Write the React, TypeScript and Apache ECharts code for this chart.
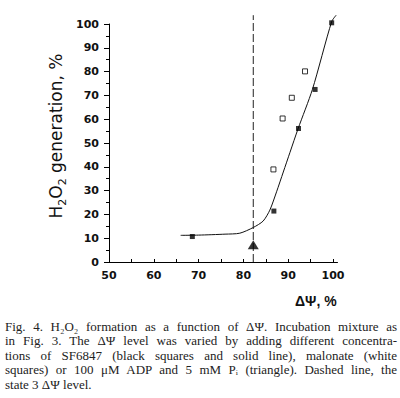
import React, { useEffect, useRef } from 'react';
import * as echarts from 'echarts';

// Fitted SF6847 curve
const curveX = [66, 70, 75.9, 79.2, 82.2, 84.4, 85.9, 87.4, 88.9, 90.4, 92.2, 95.4, 99.7, 100.7];
const curveY = [11.2, 11.3, 11.7, 12.1, 14.5, 17.2, 21.8, 29.5, 37.8, 46.1, 56, 72.5, 101, 103.7];
// Black squares (SF6847)
const blackX = [68.6, 86.8, 92.3, 96.0, 99.7];
const blackY = [10.7, 21.4, 56.1, 72.5, 100.5];
// White squares (malonate)
const whiteX = [86.7, 88.75, 90.8, 93.75];
const whiteY = [38.9, 60.3, 69.0, 80.1];
// Triangle (ADP + Pi)
const triangleX = [82.2];
const triangleY = [7.2];
// State 3 level (dashed line)
const state3X = [82.2, 82.2];
const state3Y = [0, 103.7];
// Axis ticks
const xTickValues = [50, 55, 60, 65, 70, 75, 80, 85, 90, 95, 100];
const xLabelValues = [50, 60, 70, 80, 90, 100];

const zip = (xs: number[], ys: number[]) => xs.map((x, i) => [x, ys[i]]);

export default function App() {
  const ref = useRef<HTMLDivElement>(null);
  useEffect(() => {
    if (!ref.current) return;
    const chart = echarts.init(ref.current, null, { renderer: 'svg' });
    const labelFont = {
      fontFamily: 'DejaVu Sans',
      fontWeight: 'bold' as const,
      fontSize: 11,
      color: '#111',
    };
    chart.setOption({
      animation: false,
      backgroundColor: '#fff',
      grid: { left: 109, right: 62.5, top: 24, bottom: 56 },
      xAxis: {
        type: 'value',
        min: 50,
        max: 101,
        axisLine: { show: true, onZero: false, lineStyle: { color: '#000', width: 1 } },
        axisTick: {
          show: true,
          inside: true,
          length: 3,
          customValues: xTickValues,
          lineStyle: { color: '#000' },
        },
        axisLabel: { ...labelFont, margin: 8, customValues: xLabelValues },
        splitLine: { show: false },
      },
      yAxis: {
        type: 'value',
        min: 0,
        max: 100,
        interval: 10,
        axisLine: { show: true, onZero: false, lineStyle: { color: '#000', width: 1 } },
        axisTick: { show: true, length: 5, lineStyle: { color: '#000' } },
        minorTick: { show: true, splitNumber: 2, length: 3, lineStyle: { color: '#000' } },
        axisLabel: { ...labelFont, margin: 10 },
        splitLine: { show: false },
      },
      series: [
        {
          type: 'line',
          data: zip(state3X, state3Y),
          showSymbol: false,
          symbol: 'none',
          clip: false,
          lineStyle: { color: '#222', width: 1, type: [8, 3] },
          z: 1,
        },
        {
          type: 'line',
          data: zip(curveX, curveY),
          showSymbol: false,
          symbol: 'none',
          smooth: 0.25,
          clip: false,
          lineStyle: { color: '#111', width: 1 },
          z: 2,
        },
        {
          type: 'scatter',
          data: zip(blackX, blackY),
          symbol: 'rect',
          symbolSize: 5,
          clip: false,
          itemStyle: { color: '#000' },
          z: 3,
        },
        {
          type: 'scatter',
          data: zip(whiteX, whiteY),
          symbol: 'rect',
          symbolSize: 5,
          clip: false,
          itemStyle: { color: '#fff', borderColor: '#000', borderWidth: 1 },
          z: 3,
        },
        {
          type: 'scatter',
          data: zip(triangleX, triangleY),
          symbol: 'triangle',
          symbolSize: [11, 9],
          clip: false,
          itemStyle: { color: '#000' },
          z: 3,
        },
      ],
      graphic: [
        {
          type: 'text',
          x: 62,
          y: 136,
          rotation: Math.PI / 2,
          style: {
            text: '{n|H}{sub|2}{n|O}{sub|2}{n| generation, %}',
            fontFamily: 'DejaVu Sans',
            fontSize: 17,
            fill: '#111',
            align: 'center',
            verticalAlign: 'middle',
            rich: {
              n: {
                fontFamily: 'DejaVu Sans',
                fontSize: 17,
                lineHeight: 17,
                verticalAlign: 'top',
                fill: '#111',
              },
              sub: {
                fontFamily: 'DejaVu Sans',
                fontSize: 11,
                lineHeight: 30,
                fill: '#111',
              },
            },
          },
        },
        {
          type: 'text',
          x: 295,
          y: 301,
          style: {
            text: 'ΔΨ, %',
            fontFamily: 'Liberation Sans',
            fontWeight: 'bold',
            fontSize: 14,
            fill: '#111',
            align: 'left',
            verticalAlign: 'middle',
          },
        },
      ],
    });
    return () => chart.dispose();
  }, []);

  const lineStyle: React.CSSProperties = {
    textAlign: 'justify',
    textAlignLast: 'justify',
    whiteSpace: 'nowrap',
    height: 14.4,
    lineHeight: '14.4px',
  };

  return (
    <div style={{ position: 'fixed', left: 0, top: 0, width: 400, height: 398, background: '#fff', overflow: 'hidden' }}>
      <div ref={ref} style={{ position: 'absolute', left: 0, top: 0, width: 400, height: 318 }} />
      <div
        style={{
          position: 'absolute',
          left: 5,
          top: 320,
          width: 392,
          fontFamily: '"Liberation Serif", "DejaVu Serif", serif',
          fontSize: 13,
          color: '#222',
        }}
      >
        <div style={lineStyle}>Fig. 4. H₂O₂ formation as a function of ΔΨ. Incubation mixture as</div>
        <div style={lineStyle}>in Fig. 3. The ΔΨ level was varied by adding different concentra-</div>
        <div style={lineStyle}>tions of SF6847 (black squares and solid line), malonate (white</div>
        <div style={lineStyle}>squares) or 100 μM ADP and 5 mM Pᵢ (triangle). Dashed line, the</div>
        <div style={{ ...lineStyle, textAlignLast: 'left' }}>state 3 ΔΨ level.</div>
      </div>
    </div>
  );
}
